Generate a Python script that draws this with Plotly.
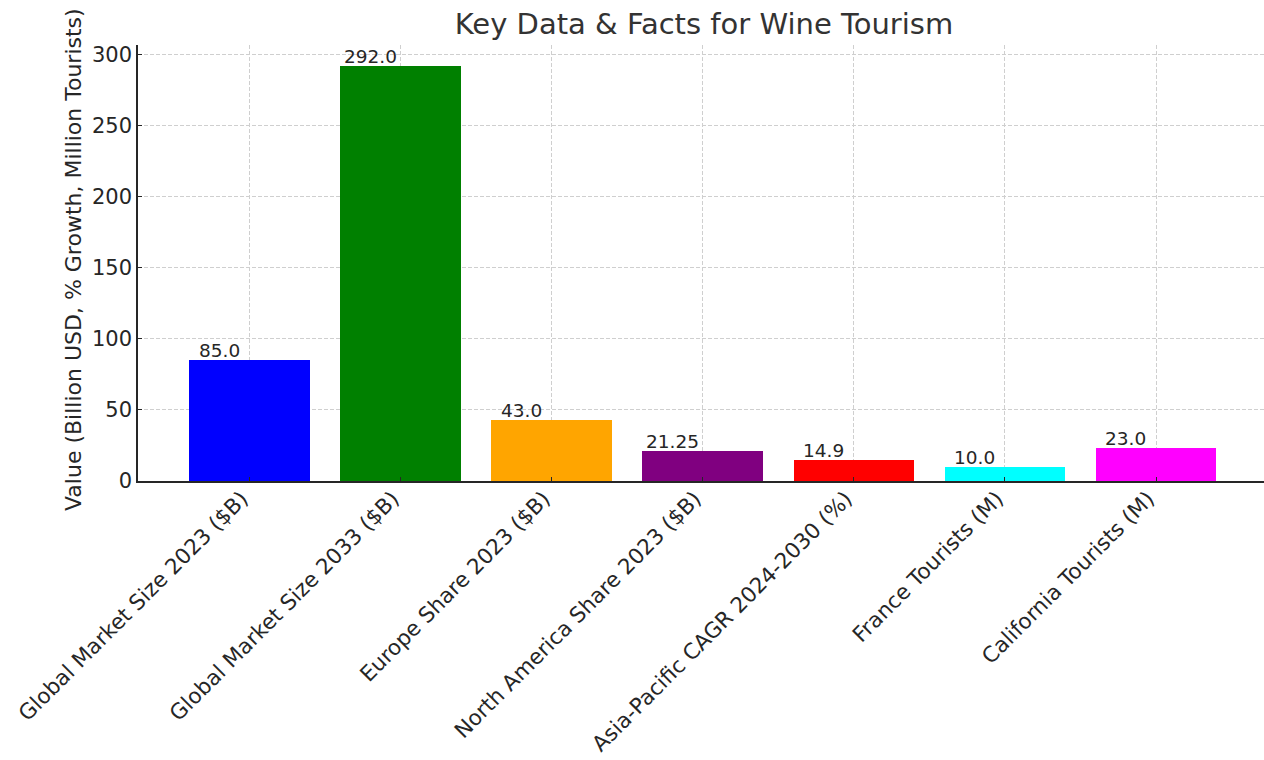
import plotly.graph_objects as go

# Wine tourism key figures
categories = [
    "Global Market Size 2023 ($B)",
    "Global Market Size 2033 ($B)",
    "Europe Share 2023 ($B)",
    "North America Share 2023 ($B)",
    "Asia-Pacific CAGR 2024-2030 (%)",
    "France Tourists (M)",
    "California Tourists (M)",
]
values = [85.0, 292.0, 43.0, 21.25, 14.9, 10.0, 23.0]
bar_colors = ["blue", "green", "orange", "purple", "red", "cyan", "magenta"]
y_ticks = [0, 50, 100, 150, 200, 250, 300]

FONT = "DejaVu Sans"
TEXT = "#262626"
GRID = "#cfcfcf"
positions = list(range(len(categories)))

fig = go.Figure(
    go.Bar(
        x=positions,
        y=values,
        width=0.8,
        marker=dict(color=bar_colors, line=dict(width=0)),
        hoverinfo="skip",
    )
)

# value labels sit above each bar, offset toward its left side
for xpos, v in zip(positions, values):
    fig.add_annotation(
        x=xpos - 0.2, y=v, text=str(v), showarrow=False,
        xanchor="center", yanchor="bottom", yshift=-3,
        font=dict(family=FONT, size=18.5, color=TEXT),
    )

# y-axis title
fig.add_annotation(
    xref="paper", yref="paper", x=0, y=0.5, xshift=-65, yshift=3,
    text="Value (Billion USD, % Growth, Million Tourists)",
    textangle=-90, showarrow=False, xanchor="center", yanchor="middle",
    font=dict(family=FONT, size=22, color=TEXT),
)

fig.update_layout(
    width=1264, height=760,
    margin=dict(l=138, r=0, t=45, b=279, autoexpand=False),
    plot_bgcolor="white", paper_bgcolor="white",
    showlegend=False,
    bargap=0,
    title=dict(
        text="Key Data & Facts for Wine Tourism",
        x=704 / 1264, xanchor="center", y=1 - 24 / 760, yanchor="middle",
        font=dict(family=FONT, size=29, color="#333333"),
    ),
    font=dict(family=FONT, color=TEXT),
)

fig.update_xaxes(
    range=[-0.74, 6.715],
    tickmode="array", tickvals=positions, ticktext=categories,
    tickangle=-45, tickfont=dict(family=FONT, size=21.5, color=TEXT),
    ticklabelshift=-8, ticklabelstandoff=-5, automargin=False,
    ticks="inside", ticklen=4, tickcolor="#262626",
    showgrid=True, gridcolor=GRID, griddash="4px,2px", gridwidth=1,
    showline=True, linecolor="#262626", linewidth=1.5,
    zeroline=False,
)
fig.update_yaxes(
    range=[0, 306.6], automargin=False,
    tickmode="array", tickvals=y_ticks,
    tickfont=dict(family=FONT, size=21, color=TEXT),
    ticks="inside", ticklen=4, tickcolor="#262626",
    showgrid=True, gridcolor=GRID, griddash="4px,2px", gridwidth=1,
    showline=True, linecolor="#262626", linewidth=1.5,
    zeroline=False,
)

fig.write_html("out.html")
